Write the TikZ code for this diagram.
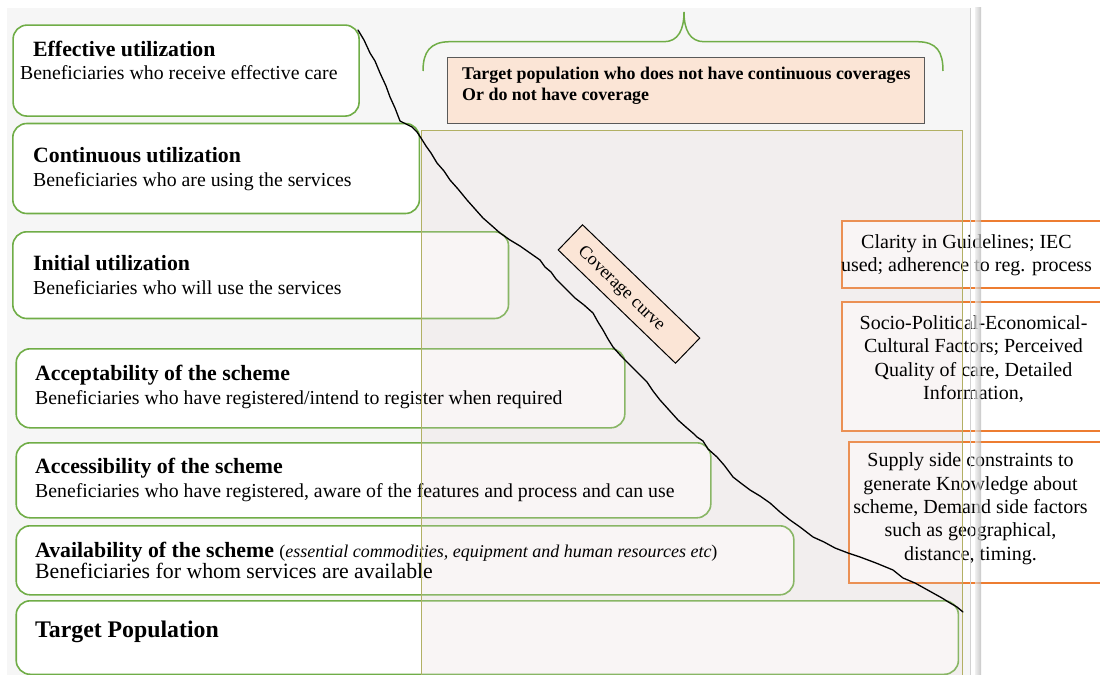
\documentclass[tikz,border=0pt]{standalone}
\usepackage{fontspec}
\setmainfont{Liberation Serif}
\definecolor{gborder}{RGB}{112,173,71}
\definecolor{oborder}{RGB}{237,125,49}
\definecolor{pinkfill}{RGB}{251,229,214}
\definecolor{bggray}{RGB}{246,246,246}
\definecolor{panelfill}{RGB}{228,214,210}
\definecolor{paneldraw}{RGB}{178,176,100}
\definecolor{pinkdraw}{RGB}{89,89,89}
\tikzset{
  gbox/.style={draw=gborder, line width=1.6bp, rounded corners=14bp, fill=white, anchor=north west, inner sep=0pt},
  obox/.style={draw=oborder, line width=2bp, fill=white, anchor=north west, inner sep=0pt},
  ttl/.style={anchor=base west, inner sep=0pt, font=\fontsize{21.8bp}{26bp}\selectfont\bfseries},
  subt/.style={anchor=base west, inner sep=0pt, font=\fontsize{19.8bp}{24bp}\selectfont},
  otext/.style={anchor=base, inner sep=0pt, align=center, font=\fontsize{20bp}{23.3bp}\selectfont},
  ptext/.style={anchor=base west, inner sep=0pt, font=\fontsize{17.9bp}{21bp}\selectfont\bfseries},
}
\begin{document}
\begin{tikzpicture}[x=1bp,y=-1bp]
\useasboundingbox (0,0) rectangle (1100,675);
\fill[white] (0,0) rectangle (1100,675);
\fill[bggray] (7,8) rectangle (971,675);

% brace
\draw[gborder, line width=1.5bp] (423,71) .. controls (423,52) and (430,41.7) .. (450,41.7)
  -- (664,41.7) .. controls (678,41.7) and (684,30) .. (684,12)
  .. controls (684,30) and (690,41.7) .. (704,41.7)
  -- (917,41.7) .. controls (937,41.7) and (943,52) .. (943,71);

% pink box
\node[draw=pinkdraw, line width=1.2bp, fill=pinkfill, anchor=north west, minimum width=477bp, minimum height=66bp, inner sep=0pt] (pink) at (447,57) {};
\node[ptext] (pinkt1) at (462,80) {Target population who does not have continuous coverages};
\node[ptext] (pinkt2) at (462,100.7) {Or do not have coverage};

% orange boxes
\node[obox, minimum width=262bp, minimum height=67bp] (o1) at (840.7,220) {};
\node[obox, minimum width=262bp, minimum height=129bp] (o2) at (841,300.7) {};
\node[obox, minimum width=256bp, minimum height=141bp] (o3) at (847.7,441) {};

% green boxes
\node[gbox, minimum width=346bp, minimum height=91bp] (b1) at (12.3,24.3) {};
\node[gbox, minimum width=406.6bp, minimum height=90bp] (b2) at (12,122.7) {};
\node[gbox, minimum width=495.7bp, minimum height=86.7bp] (b3) at (12,231) {};
\node[gbox, minimum width=608.6bp, minimum height=79bp] (b4) at (15.4,348) {};
\node[gbox, minimum width=694.6bp, minimum height=75bp] (b5) at (15.4,442) {};
\node[gbox, minimum width=777.6bp, minimum height=69bp] (b6) at (15.4,525) {};
\node[gbox, minimum width=942.2bp, minimum height=73.5bp] (b7) at (15.4,600) {};

% panel fill
\fill[panelfill, fill opacity=0.22] (421,131) rectangle (962.6,677);

% texts
\node[otext] (o1t) at (966.5,271.5) {Clarity in Guidelines; IEC\\used; adherence to reg. process};
\node[otext] (o2t) at (973.5,399.5) {Socio-Political-Economical-\\Cultural Factors; Perceived\\Quality of care, Detailed\\Information,};
\node[otext] (o3t) at (970.5,560) {Supply side constraints to\\generate Knowledge about\\scheme, Demand side factors\\such as geographical,\\distance, timing.};

\node[ttl] (b1a) at (33,56.7) {Effective utilization};
\node[subt] (b1b) at (20,79.5) {Beneficiaries who receive effective care};
\node[ttl] (b2a) at (33,163) {Continuous utilization};
\node[subt] (b2b) at (33,187) {Beneficiaries who are using the services};
\node[ttl] (b3a) at (33,270) {Initial utilization};
\node[subt] (b3b) at (33,294) {Beneficiaries who will use the services};
\node[ttl] (b4a) at (35,380) {Acceptability of the scheme};
\node[subt] (b4b) at (35,404) {Beneficiaries who have registered/intend to register when required};
\node[ttl] (b5a) at (35,473) {Accessibility of the scheme};
\node[subt] (b5b) at (35,497) {Beneficiaries who have registered, aware of the features and process and can use};
\node[ttl] (b6a) at (35,557) {Availability of the scheme {\mdseries\fontsize{18bp}{20bp}\selectfont(\textit{essential commodities, equipment and human resources etc})}};
\node[subt, font=\fontsize{21.8bp}{24bp}\selectfont] (b6b) at (35,578) {Beneficiaries for whom services are available};
\node[ttl, font=\fontsize{23.8bp}{26bp}\selectfont\bfseries] (b7a) at (35,637) {Target Population};

% panel border
\draw[paneldraw, line width=1bp] (421,131) rectangle (962.6,677);

% coverage curve
\draw[black, line width=1.3bp, line join=round, line cap=round]
  (358,30) -- (364,40) -- (370,53) -- (375,61) -- (380,73) -- (386,86) -- (390,97) -- (395,108) -- (400,121)
  -- (406,124) -- (412,127) -- (417,132) -- (421,138) -- (426,146) -- (431,153) -- (437,163)
  -- (444,171) -- (450,180) -- (458,189) -- (467,200) -- (475,209) -- (483,218) -- (491,225) -- (500,233)
  -- (510,240) -- (520,246) -- (530,253) -- (540,260) -- (545,267) -- (551,272) -- (556,279) -- (560,283)
  -- (568,291) -- (575,298) -- (584,305) -- (593,313) -- (598,322) -- (603,330) -- (608,339) -- (613,347)
  -- (621,356) -- (630,365) -- (638,373) -- (647,382) -- (653,391) -- (660,400) -- (669,410) -- (678,420)
  -- (687,428) -- (694,434) -- (697,437) -- (703,441) -- (708,449) -- (717,457) -- (724,465) -- (733,477)
  -- (742,484) -- (750,490) -- (760,496) -- (770,503) -- (780,512) -- (790,520) -- (800,527) -- (813,537)
  -- (824,542) -- (835,548) -- (848,553) -- (860,557) -- (876,563) -- (893,570) -- (903,578) -- (915,583)
  -- (924,588) -- (933,593) -- (942,598) -- (950,603) -- (957,607) -- (963,612);

\node[draw=black, line width=1bp, fill=pinkfill, minimum width=163bp, minimum height=35bp, rotate=-44, inner sep=0pt] (cbox) at (629,294) {};
\node[rotate=-44, inner sep=0pt, font=\fontsize{18bp}{20bp}\selectfont] (ctext) at (621,289) {Coverage curve};

% page edge
\draw[black!18, line width=1bp] (970.5,8) -- (970.5,675);
\shade[left color=black!8, right color=black!30, opacity=0.7] (975,8) rectangle (981,675);
\end{tikzpicture}
\end{document}
